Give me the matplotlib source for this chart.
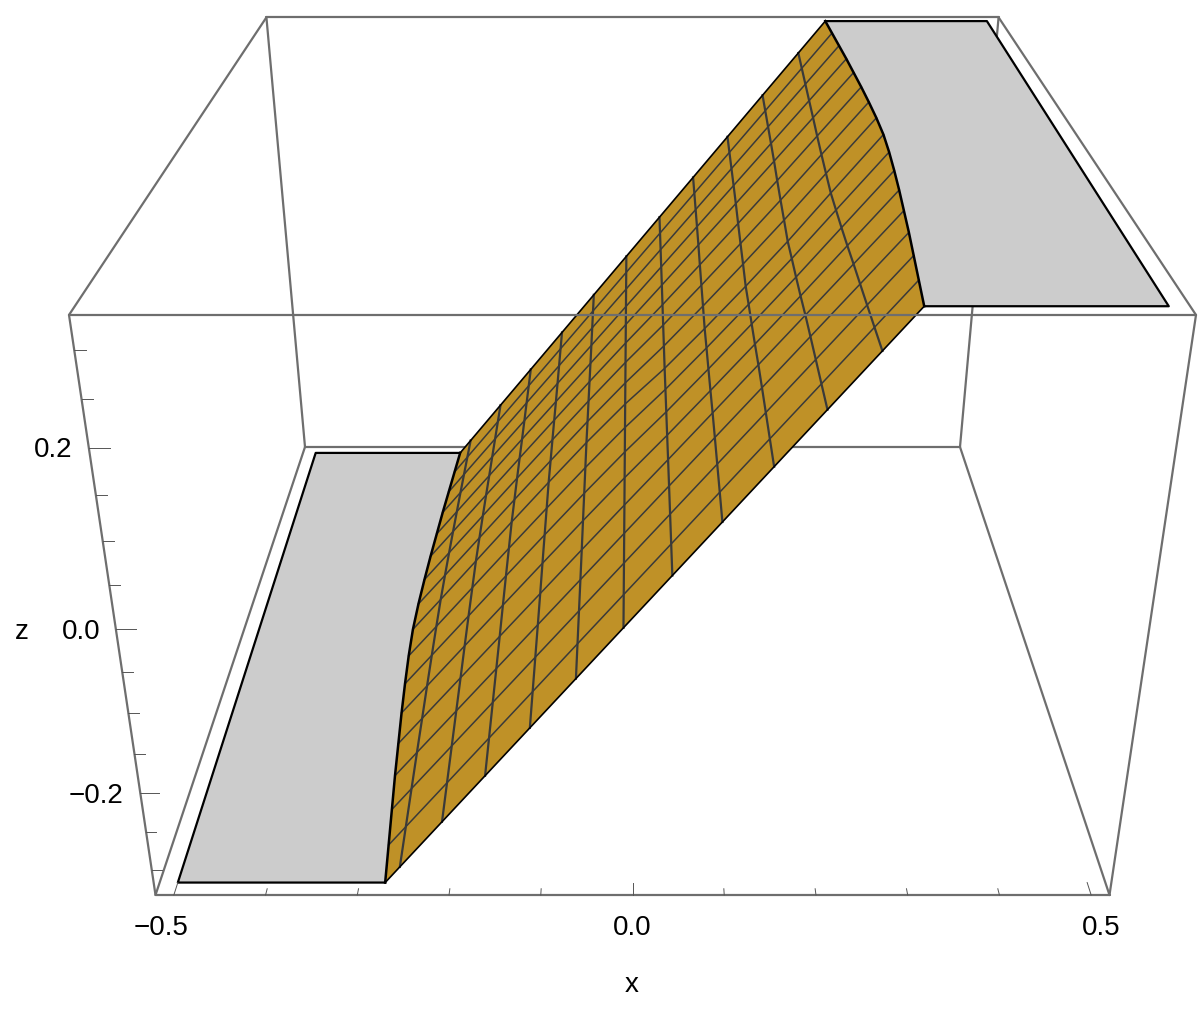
import numpy as np
import matplotlib.pyplot as plt

# surface values
y_levels = [0, 0.0625, 0.125, 0.1875, 0.25, 0.3125, 0.375, 0.4375, 0.5, 0.5625, 0.625, 0.6875, 0.75, 0.8125, 0.875, 0.9375, 1]
x_levels = [-0.2546, -0.2056, -0.1569, -0.1077, -0.0585, -0.0092, 0.04, 0.0889, 0.1379, 0.1869, 0.2358]
left_edge = [-0.272, -0.2755, -0.279, -0.2825, -0.2855, -0.2885, -0.291, -0.293, -0.294, -0.293, -0.291, -0.2885, -0.2855, -0.2825, -0.279, -0.2755, -0.272]
right_edge = [0.272, 0.2755, 0.279, 0.2825, 0.2855, 0.2885, 0.291, 0.293, 0.294, 0.293, 0.291, 0.2885, 0.2855, 0.2825, 0.279, 0.2755, 0.272]
# height change of each x level at mid depth, and how much of it each y level gets
mid_sag = [0.001, 0.003, 0.005, 0.006, 0.006, 0.003, -0.005, -0.008, -0.009, -0.008, -0.004]
sag_weight = [0, 0, 0, 0, 0.1, 0.35, 0.55, 0.7, 1, 0.7, 0.55, 0.35, 0.1, 0, 0, 0, 0]
plateau_x = 0.5
plateau_z = 0.334

x_ticks = [-0.5, -0.4, -0.3, -0.2, -0.1, 0.0, 0.1, 0.2, 0.3, 0.4, 0.5]
x_major = [-0.5, 0.0, 0.5]
z_ticks = [-0.3, -0.25, -0.2, -0.15, -0.1, -0.05, 0.0, 0.05, 0.1, 0.15, 0.2, 0.25, 0.3]
z_major = [-0.2, 0.0, 0.2]

GOLD = "#BF9127"
GREY = "#CCCCCC"
BOX = "#6E6E6E"
MESH = "#3A3A3A"


def project(x, y, z):
    # camera fitted to the box, returns pixel positions
    X = np.asarray(x) / 0.52
    Y = (np.asarray(y) + 0.02) / 1.04
    Z = (np.asarray(z) + plateau_z) / (2 * plateau_z)
    w = 1 + 0.4565 * Y - 0.1535 * Z
    return 632.5 + 477 * X / w, (895 - 244 * Y - 628.4 * Z) / w


def box_line(a, b, **kw):
    px, py = project([a[0], b[0]], [a[1], b[1]], [a[2], b[2]])
    ax.plot(px, py, color=BOX, lw=1.6, solid_capstyle="round", **kw)


plt.rcParams["font.family"] = ["Liberation Sans", "DejaVu Sans"]
fig = plt.figure(figsize=(12.04, 10.16), dpi=100)
ax = fig.add_axes([0, 0, 1, 1])
ax.set_xlim(0, 1204)
ax.set_ylim(1016, 0)
ax.axis("off")

bx, by0, by1, bz = 0.52, -0.02, 1.02, plateau_z

# box edges behind the surface
box_line((-bx, by1, bz), (bx, by1, bz), zorder=1)
box_line((-bx, by1, -bz), (bx, by1, -bz), zorder=1)
box_line((-bx, by1, -bz), (-bx, by1, bz), zorder=1)
box_line((bx, by1, -bz), (bx, by1, bz), zorder=1)
box_line((-bx, by0, bz), (-bx, by1, bz), zorder=1)
box_line((bx, by0, bz), (bx, by1, bz), zorder=1)
box_line((-bx, by0, -bz), (-bx, by1, -bz), zorder=1)
box_line((bx, by0, -bz), (bx, by1, -bz), zorder=1)

ys = np.array(y_levels)
xs = np.array(x_levels)
lo = np.array(left_edge)
hi = np.array(right_edge)

# ramp mesh: rows are x levels with the two edges added
mesh_x = np.vstack([lo, np.tile(xs, (len(ys), 1)).T, hi])
mesh_y = np.tile(ys, (len(xs) + 2, 1))
mesh_z = np.where(mesh_x < 0, -mesh_x / lo, mesh_x / hi) * plateau_z
mesh_z[1:-1] += np.outer(mid_sag, sag_weight)
px, py = project(mesh_x, mesh_y, mesh_z)

# grey plateaus either side of the ramp
lx, ly = project(np.r_[-plateau_x, lo, -plateau_x], np.r_[0, ys, 1], np.full(len(ys) + 2, -plateau_z))
ax.fill(lx, ly, facecolor=GREY, edgecolor="none", zorder=2)
rx, ry = project(np.r_[plateau_x, hi, plateau_x], np.r_[0, ys, 1], np.full(len(ys) + 2, plateau_z))
ax.fill(rx, ry, facecolor=GREY, edgecolor="none", zorder=2)

# plateau outlines
for sx, sy in [(lx, ly), (rx, ry)]:
    ax.plot(sx[[1, 0, -1, -2]], sy[[1, 0, -1, -2]], color="black", lw=1.6, zorder=3)

# gold ramp
ax.fill(np.r_[px[0], px[-1][::-1]], np.r_[py[0], py[-1][::-1]], facecolor=GOLD, edgecolor="none", zorder=4)

for j in range(1, len(ys) - 1):
    ax.plot(px[:, j], py[:, j], color=MESH, lw=1.1, zorder=5)
for i in range(1, len(xs) + 1):
    ax.plot(px[i], py[i], color=MESH, lw=1.6, zorder=5)

ax.plot(px[0], py[0], color="black", lw=1.8, zorder=6)
ax.plot(px[-1], py[-1], color="black", lw=1.8, zorder=6)
ax.plot(px[:, 0], py[:, 0], color="black", lw=1.2, zorder=6)
ax.plot(px[:, -1], py[:, -1], color="black", lw=1.2, zorder=6)

# front of the box goes over the surface
box_line((-bx, by0, bz), (bx, by0, bz), zorder=7)
box_line((-bx, by0, -bz), (bx, by0, -bz), zorder=7)
box_line((-bx, by0, -bz), (-bx, by0, bz), zorder=7)
box_line((bx, by0, -bz), (bx, by0, bz), zorder=7)

# ticks
for v in x_ticks:
    dy = 0.02 if v in x_major else 0.01
    tx, ty = project([v, v], [by0, by0 + dy], [-bz, -bz])
    ax.plot(tx, ty, color="#555555", lw=0.7, zorder=7)
for v in z_ticks:
    dx = 0.02 if v in z_major else 0.011
    tx, ty = project([-bx, -bx + dx], [by0, by0], [v, v])
    ax.plot(tx, ty, color="#555555", lw=0.7, zorder=7)

# labels
ax.text(161, 935, "\u22120.5", fontsize=20, ha="center", va="baseline")
ax.text(632, 935, "0.0", fontsize=20, ha="center", va="baseline")
ax.text(1101, 935, "0.5", fontsize=20, ha="center", va="baseline")
ax.text(53, 457, "0.2", fontsize=20, ha="center", va="baseline")
ax.text(81, 639, "0.0", fontsize=20, ha="center", va="baseline")
ax.text(96, 803, "\u22120.2", fontsize=20, ha="center", va="baseline")
ax.text(21.5, 639, "z", fontsize=20, ha="center", va="baseline")
ax.text(632, 992, "x", fontsize=20, ha="center", va="baseline")

fig.savefig("out.png", dpi=100)
